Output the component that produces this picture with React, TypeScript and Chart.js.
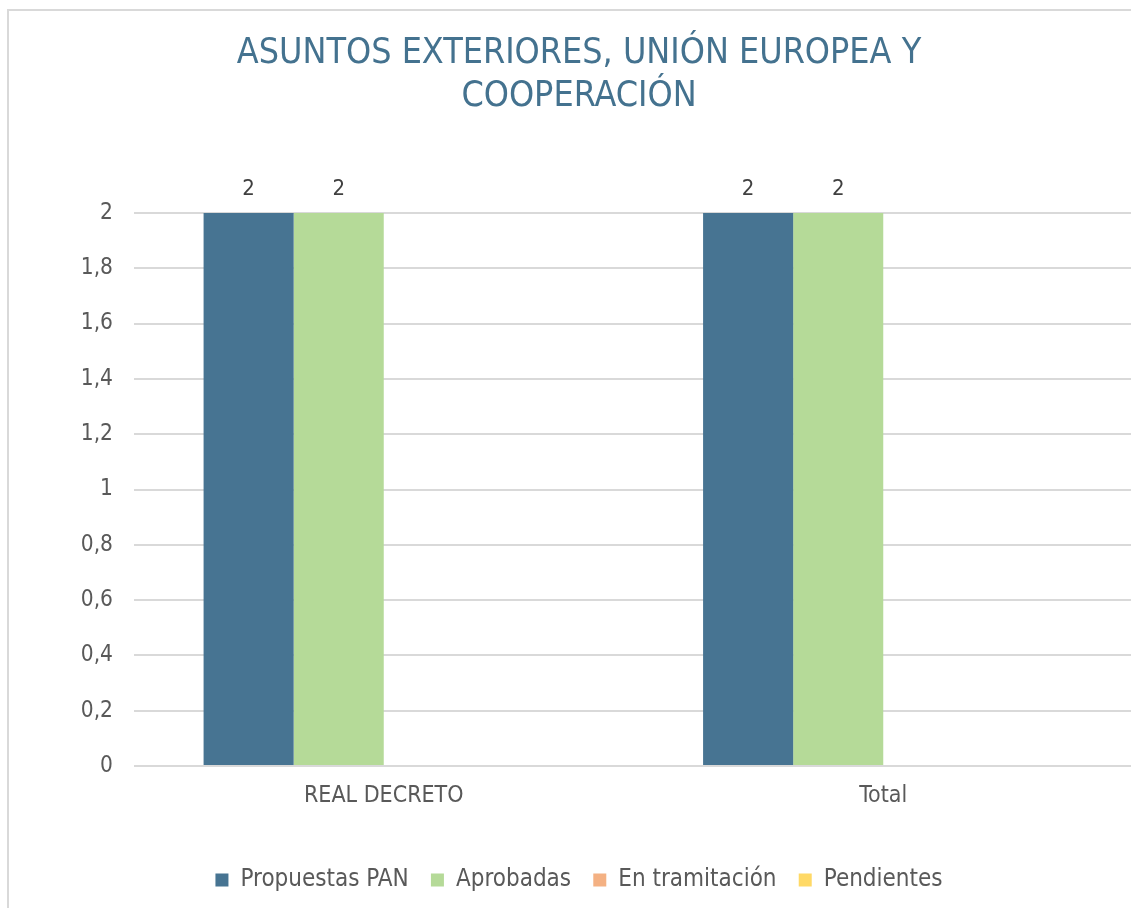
import React, { useEffect, useRef } from "react";
import { Chart, registerables } from "chart.js";

Chart.register(...registerables);

const titleLines = ["ASUNTOS EXTERIORES, UNIÓN EUROPEA Y", "COOPERACIÓN"];
const categories = ["REAL DECRETO", "Total"];
const propuestasPAN = [2, 2];
const aprobadas = [2, 2];
const enTramitacion = [0, 0];
const pendientes = [0, 0];
const seriesNames = ["Propuestas PAN", "Aprobadas", "En tramitación", "Pendientes"];
const yMin = 0;
const yMax = 2;
const yStep = 0.2;

const FONT = "'DejaVu Sans Condensed', 'DejaVu Sans', sans-serif";

const dataLabelPlugin = {
  id: "dataLabels",
  afterDatasetsDraw(chart: any) {
    const ctx = chart.ctx;
    ctx.save();
    ctx.font = `22px ${FONT}`;
    ctx.fillStyle = "#404040";
    ctx.textAlign = "center";
    ctx.textBaseline = "middle";
    chart.data.datasets.forEach((ds: any, i: number) => {
      const meta = chart.getDatasetMeta(i);
      if (meta.hidden) return;
      meta.data.forEach((bar: any, j: number) => {
        const v = ds.data[j];
        if (!v) return;
        ctx.fillText(String(v).replace(".", ","), bar.x, bar.y - 24);
      });
    });
    ctx.restore();
  },
};

export default function App() {
  const ref = useRef<HTMLCanvasElement>(null);

  useEffect(() => {
    if (!ref.current) return;
    const chart = new Chart(ref.current, {
      type: "bar",
      data: {
        labels: categories,
        datasets: [
          { label: seriesNames[0], data: propuestasPAN, backgroundColor: "#477492", borderWidth: 0 },
          { label: seriesNames[1], data: aprobadas, backgroundColor: "#B5DA98", borderWidth: 0 },
          { label: seriesNames[2], data: enTramitacion, backgroundColor: "#F4B183", borderWidth: 0 },
          { label: seriesNames[3], data: pendientes, backgroundColor: "#FFD966", borderWidth: 0 },
        ],
      },
      options: {
        responsive: false,
        animation: false,
        devicePixelRatio: 1,
        datasets: {
          bar: { barPercentage: 1, categoryPercentage: 0.7214 },
        },
        layout: { padding: 0 },
        plugins: {
          title: {
            display: true,
            text: titleLines,
            color: "#44728F",
            font: { family: FONT, size: 35.6, weight: "normal", lineHeight: 1.22 },
            padding: { top: 21, bottom: 94.2 },
          },
          legend: {
            display: true,
            position: "bottom",
            labels: {
              boxWidth: 13,
              boxHeight: 13,
              padding: 22.2,
              color: "#595959",
              font: { family: FONT, size: 24 },
            },
          },
          tooltip: { enabled: false },
        },
        scales: {
          x: {
            grid: { display: false, drawTicks: false },
            border: { display: false },
            ticks: {
              color: "#595959",
              font: { family: FONT, size: 23, lineHeight: 1.2 },
              padding: 16,
            },
            afterFit: (s: any) => {
              s.height = 79.8;
            },
          },
          y: {
            min: yMin,
            max: yMax,
            grid: { color: "#D9D9D9", lineWidth: 2, drawTicks: false },
            border: { display: false },
            ticks: {
              stepSize: yStep,
              color: "#595959",
              font: { family: FONT, size: 22.5 },
              padding: 21,
              callback: (v: any) => String(Number(Number(v).toFixed(1))).replace(".", ","),
            },
            afterFit: (s: any) => {
              s.width = 125;
            },
          },
          y2: {
            position: "right",
            display: true,
            grid: { display: false, drawTicks: false },
            border: { display: false },
            ticks: { display: false },
            afterFit: (s: any) => {
              s.width = 16;
            },
          },
        },
      },
      plugins: [dataLabelPlugin],
    });
    return () => chart.destroy();
  }, []);

  return (
    <div
      style={{
        position: "absolute",
        left: 0,
        top: 0,
        width: 1131,
        height: 908,
        overflow: "hidden",
        background: "#ffffff",
      }}
    >
      <div
        style={{
          position: "absolute",
          left: 7,
          top: 9,
          width: 1124,
          height: 899,
          overflow: "hidden",
          borderLeft: "2px solid #D9D9D9",
          borderTop: "2px solid #D9D9D9",
          boxSizing: "border-box",
        }}
      >
        <canvas ref={ref} width={1140} height={891} style={{ display: "block" }} />
      </div>
    </div>
  );
}
